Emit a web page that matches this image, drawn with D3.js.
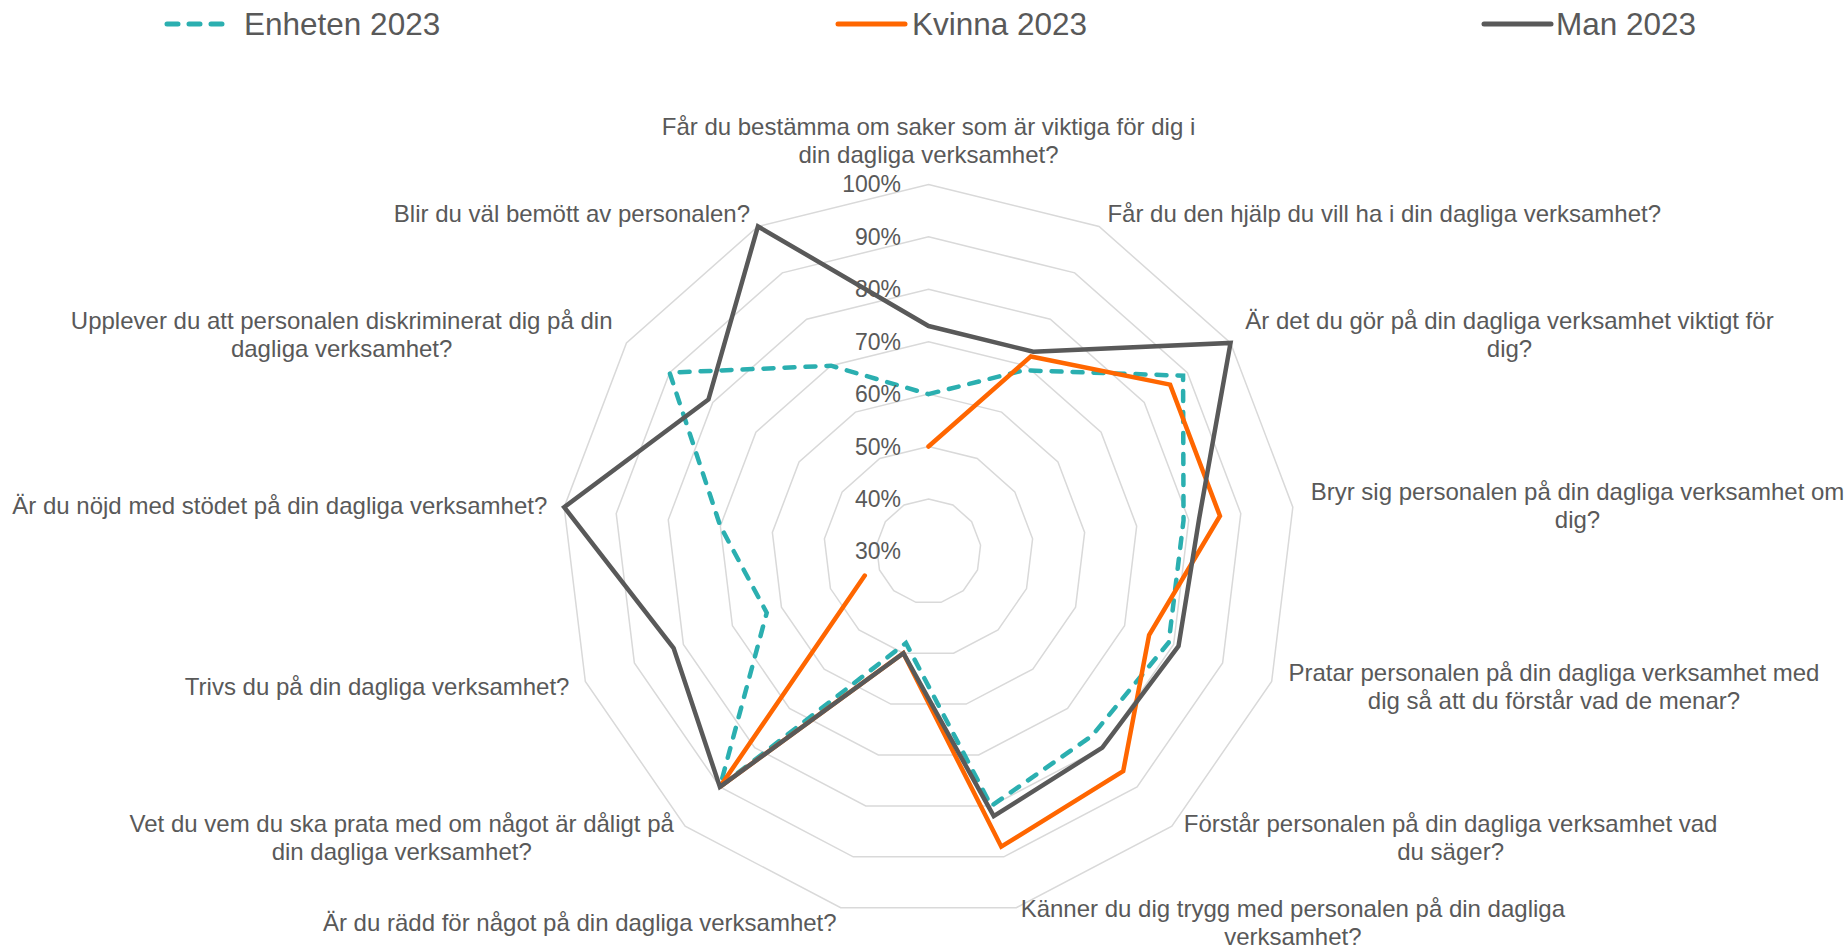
<!DOCTYPE html>
<html>
<head>
<meta charset="utf-8">
<script src="https://cdn.jsdelivr.net/npm/d3@7"></script>
<style>
  body { margin: 0; background: #fff; }
  text { font-family: "Liberation Sans", Arial, sans-serif; fill: #595959; }
</style>
</head>
<body>
<div id="viz"></div>
<script>
const width = 1847;
const height = 949;
const center = {x: 928.5, y: 551.4};
const radius = 367;

// Category labels, already wrapped the way the chart shows them
const categories = [
  ['Får du bestämma om saker som är viktiga för dig i', 'din dagliga verksamhet?'],
  ['Får du den hjälp du vill ha i din dagliga verksamhet?'],
  ['Är det du gör på din dagliga verksamhet viktigt för', 'dig?'],
  ['Bryr sig personalen på din dagliga verksamhet om', 'dig?'],
  ['Pratar personalen på din dagliga verksamhet med', 'dig så att du förstår vad de menar?'],
  ['Förstår personalen på din dagliga verksamhet vad', 'du säger?'],
  ['Känner du dig trygg med personalen på din dagliga', 'verksamhet?'],
  ['Är du rädd för något på din dagliga verksamhet?'],
  ['Vet du vem du ska prata med om något är dåligt på', 'din dagliga verksamhet?'],
  ['Trivs du på din dagliga verksamhet?'],
  ['Är du nöjd med stödet på din dagliga verksamhet?'],
  ['Upplever du att personalen diskriminerat dig på din', 'dagliga verksamhet?'],
  ['Blir du väl bemött av personalen?']
];

// Series values (share of yes answers), null = no answer
const enheten = [0.60, 0.69, 0.89, 0.79, 0.79, 0.77, 0.80, 0.48, 0.90, 0.63, 0.70, 0.90, 0.70];
const kvinna  = [0.50, 0.72, 0.86, 0.86, 0.75, 0.86, 0.88, 0.50, 0.90, 0.43, null, null, null];
const man     = [0.73, 0.73, 1.00, 0.82, 0.81, 0.80, 0.82, 0.50, 0.90, 0.82, 1.00, 0.81, 1.00];

const tickValues = [0.3, 0.4, 0.5, 0.6, 0.7, 0.8, 0.9, 1.0];
const tickLabels = ['30%', '40%', '50%', '60%', '70%', '80%', '90%', '100%'];

const series = [
  { name: 'Enheten 2023', values: enheten, color: '#2BAFB0', dash: '10,11' },
  { name: 'Kvinna 2023', values: kvinna, color: '#FF6600', dash: null },
  { name: 'Man 2023', values: man, color: '#595959', dash: null }
];

const n = categories.length;
const angle = d3.scaleLinear().domain([0, n]).range([0, 2 * Math.PI]);
const rScale = d3.scaleLinear().domain([0.3, 1]).range([0, radius]);

const svg = d3.select('#viz')
  .append('svg')
    .attr('width', width)
    .attr('height', height)
    .attr('viewBox', [0, 0, width, height]);

const chart = svg.append('g')
  .attr('transform', `translate(${center.x}, ${center.y})`);

// Gridline rings (polygons)
const ring = d3.lineRadial()
  .angle((d, i) => angle(i))
  .radius(d => rScale(d))
  .curve(d3.curveLinearClosed);

chart.append('g')
    .attr('class', 'grid')
  .selectAll('path')
  .data(tickValues.slice(1))
  .join('path')
    .attr('d', t => ring(d3.range(n).map(() => t)))
    .attr('fill', 'none')
    .attr('stroke', '#D9D9D9')
    .attr('stroke-width', 1.5);

// Series lines
const line = d3.lineRadial()
  .defined(d => d.v != null)
  .angle(d => angle(d.i))
  .radius(d => rScale(d.v));

chart.append('g')
    .attr('class', 'series')
  .selectAll('path')
  .data(series)
  .join('path')
    .attr('d', s => {
      const pts = s.values.map((v, i) => ({ i, v }));
      pts.push({ i: n, v: s.values[0] }); // close the loop
      return line(pts);
    })
    .attr('fill', 'none')
    .attr('stroke', s => s.color)
    .attr('stroke-width', 4.5)
    .attr('stroke-linejoin', 'miter')
    .attr('stroke-linecap', 'round')
    .attr('stroke-dasharray', s => s.dash);

// Tick labels along the top axis
chart.append('g')
    .attr('class', 'ticks')
  .selectAll('text')
  .data(tickValues)
  .join('text')
    .attr('x', -27.5)
    .attr('y', d => -rScale(d))
    .attr('dy', '0.35em')
    .attr('text-anchor', 'end')
    .style('font-size', '23px')
    .text((d, i) => tickLabels[i]);

// Category labels
const lineH = 28;
const labels = chart.append('g').attr('class', 'labels');
categories.forEach((lines, i) => {
  const a = angle(i);
  const sx = Math.sin(a), cy = Math.cos(a);
  const vx = rScale(1) * sx;
  const vy = -rScale(1) * cy;
  const g = labels.append('g');
  const texts = g.selectAll('text')
    .data(lines)
    .join('text')
      .style('font-size', '24px')
      .attr('text-anchor', 'middle')
      .attr('dy', '0.35em')
      .text(d => d);
  const maxW = d3.max(texts.nodes(), t => t.getComputedTextLength());
  let x, yc;
  if (Math.abs(sx) < 0.1) {
    x = vx;
    yc = vy - 30 - (lines.length - 1) * lineH / 2;
  } else if (sx > 0) {
    x = vx + sx * 18 + maxW / 2;
    yc = vy - cy * 15;
  } else {
    x = vx + sx * 17 - maxW / 2;
    yc = vy - cy * 15;
  }
  texts
    .attr('x', x)
    .attr('y', (d, j) => yc + (j - (lines.length - 1) / 2) * lineH);
});

// Legend
const legendPos = [
  { x1: 167, x2: 232, tx: 244 },
  { x1: 838, x2: 905, tx: 912 },
  { x1: 1484, x2: 1551, tx: 1556 }
];
const legend = svg.append('g')
    .attr('class', 'legend')
  .selectAll('g')
  .data(series)
  .join('g');
legend.append('line')
    .attr('x1', (d, i) => legendPos[i].x1)
    .attr('x2', (d, i) => legendPos[i].x2)
    .attr('y1', 24)
    .attr('y2', 24)
    .attr('stroke', d => d.color)
    .attr('stroke-width', 5)
    .attr('stroke-linecap', 'round')
    .attr('stroke-dasharray', d => d.dash ? '11,11' : null);
legend.append('text')
    .attr('x', (d, i) => legendPos[i].tx)
    .attr('y', 35)
    .style('font-size', '31.5px')
    .text(d => d.name);
</script>
</body>
</html>
